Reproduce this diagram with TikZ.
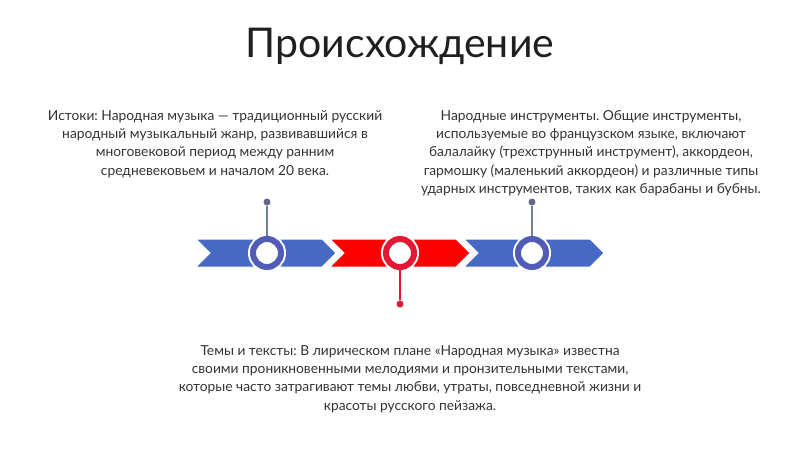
\documentclass[tikz,border=0pt]{standalone}
\usepackage{fontspec}
\setmainfont{Lato}
\usepackage{xcolor}
\usepackage{tikz}
\usetikzlibrary{positioning}
\definecolor{folkblue}{RGB}{70,106,196}
\definecolor{folkring}{RGB}{80,92,182}
\definecolor{folkred}{RGB}{255,0,0}
\definecolor{folkdeep}{RGB}{226,24,52}
\definecolor{folkpin}{RGB}{112,126,160}
\definecolor{folkink}{RGB}{51,51,51}
\frenchspacing

\tikzset{
  ring/.style={circle, draw=#1, line width=6pt, fill=white, minimum size=28pt, inner sep=0pt,
    preaction={draw=white, line width=10pt}},
  pin dot/.style={circle, fill=#1, minimum size=7pt, inner sep=0pt},
  blurb/.style={align=center, text=folkink, font=\fontsize{13.8}{18.4}\selectfont, inner sep=0pt}
}

\begin{document}
\begin{tikzpicture}[x=1pt, y=-1pt]
    \useasboundingbox (0,0) rectangle (800,449);
    \node[font=\fontsize{41}{44}\selectfont, text=black!88] (title) at (400,46) {Происхождение};
    % timeline band
    \foreach \x/\col in {196/folkblue, 330/folkred, 464/folkblue}{
      \fill[\col, draw=white, line width=1pt] (\x,239) -- ++(126,0) -- ++(14,14) -- ++(-14,14)
        -- ++(-126,0) -- ++(14,-14) -- cycle;
    }
    \node[ring=folkring] (c1) at (267,253) {};
    \node[ring=folkdeep] (c2) at (400,253) {};
    \node[ring=folkring] (c3) at (532,253) {};
    \node[pin dot=folkpin!85!black] (d1) at (267,202) {};
    \node[pin dot=folkdeep] (d2) at (400,304) {};
    \node[pin dot=folkpin!85!black] (d3) at (532,202) {};
    \draw[folkpin, line width=1.5pt] (d1) -- (c1);
    \draw[folkdeep, line width=1.5pt] (d2) -- (c2);
    \draw[folkpin, line width=1.5pt] (d3) -- (c3);
    % texts
    \node[blurb, anchor=north] (srcText) at (215,110) {Истоки: Народная музыка — традиционный русский\\
      народный музыкальный жанр, развивавшийся в\\
      многовековой период между ранним\\
      средневековьем и началом 20 века.};
    \node[blurb, anchor=north] (instrText) at (591,110) {Народные инструменты. Общие инструменты,\\
      используемые во французском языке, включают\\
      балалайку (трехструнный инструмент), аккордеон,\\
      гармошку (маленький аккордеон) и различные типы\\
      ударных инструментов, таких как барабаны и бубны.};
    \node[blurb, anchor=north] (themeText) at (410,345) {Темы и тексты: В лирическом плане «Народная музыка» известна\\
      своими проникновенными мелодиями и пронзительными текстами,\\
      которые часто затрагивают темы любви, утраты, повседневной жизни и\\
      красоты русского пейзажа.};
\end{tikzpicture}
\end{document}
